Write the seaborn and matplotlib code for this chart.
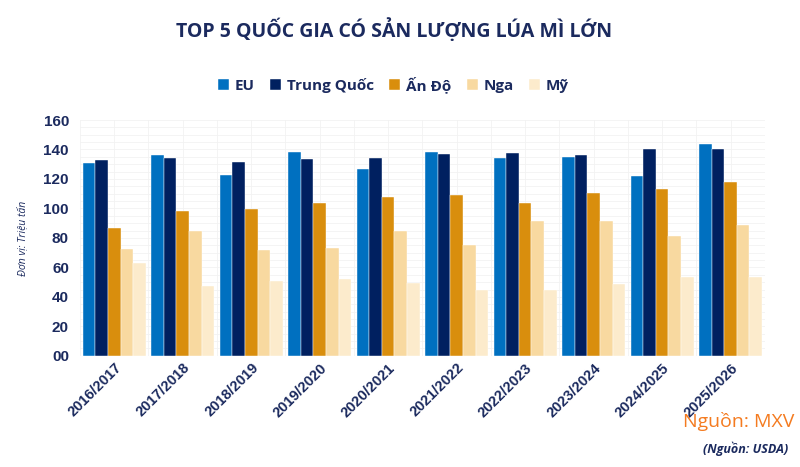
import seaborn as sns
import matplotlib.pyplot as plt
import matplotlib.ticker as mticker
import pandas as pd

# data (million tonnes)
seasons = ['2016/2017', '2017/2018', '2018/2019', '2019/2020', '2020/2021',
           '2021/2022', '2022/2023', '2023/2024', '2024/2025', '2025/2026']
countries = ['EU', 'Trung Quốc', 'Ấn Độ', 'Nga', 'Mỹ']
eu = [130.8, 136.6, 123.0, 138.6, 126.7, 138.2, 134.1, 135.0, 122.0, 143.8]
china = [133.0, 134.1, 131.4, 133.5, 134.1, 136.8, 137.7, 136.6, 140.2, 140.2]
india = [87.0, 98.3, 99.7, 103.4, 107.8, 109.3, 103.9, 110.2, 113.2, 117.9]
russia = [72.3, 85.0, 71.5, 73.5, 85.0, 75.0, 91.8, 91.3, 81.4, 89.1]
usa = [62.7, 47.1, 50.7, 52.1, 49.2, 44.5, 44.5, 48.7, 53.4, 53.7]

colors = ['#0070C0', '#002060', '#D98E0D', '#F8D9A0', '#FCEBCC']
navy = '#1B2A5E'

rows = []
for name, vals in zip(countries, [eu, china, india, russia, usa]):
    for s, v in zip(seasons, vals):
        rows.append({'season': s, 'country': name, 'value': v})
df = pd.DataFrame(rows)

sns.set_style('white')
plt.rcParams['font.family'] = ['Open Sans', 'DejaVu Sans']

fig = plt.figure(figsize=(8, 4.67), dpi=100)
ax = fig.add_axes([0.1, 0.238, 0.856, 0.505])

sns.barplot(data=df, x='season', y='value', hue='country', order=seasons,
            hue_order=countries, palette=colors, width=0.92, saturation=1,
            edgecolor='white', linewidth=0.3, ax=ax, legend=True)

ax.set_ylim(0, 160)
ax.set_xlim(-0.5, len(seasons) - 0.5)
ax.yaxis.set_major_locator(mticker.MultipleLocator(20))
ax.yaxis.set_minor_locator(mticker.MultipleLocator(5))
ax.yaxis.set_major_formatter(mticker.FuncFormatter(lambda v, p: f'{int(v):02d}'))
ax.xaxis.set_minor_locator(mticker.FixedLocator([i - 0.5 for i in range(len(seasons) + 1)]))
ax.grid(True, which='both', color='#F2F2F2', linewidth=0.6)
ax.set_axisbelow(True)
for sp in ax.spines.values():
    sp.set_visible(False)
ax.tick_params(which='both', length=0)
ax.tick_params(axis='y', pad=8)

for lab in ax.get_yticklabels():
    lab.set_fontfamily(['Liberation Sans', 'DejaVu Sans'])
    lab.set_fontweight('bold')
    lab.set_fontsize(11)
    lab.set_color(navy)
ax.set_xticks(range(len(seasons)))
ax.set_xticklabels(seasons, rotation=45, ha='right', rotation_mode='anchor',
                   fontsize=10.5, fontweight='bold', color=navy,
                   family=['Liberation Sans', 'DejaVu Sans'])

ax.set_xlabel('')
ax.set_ylabel('Đơn vị: Triệu tấn', fontsize=7.5, style='italic', color=navy,
              labelpad=11)

handles, labels = ax.get_legend_handles_labels()
ax.legend(handles, labels, loc='center', bbox_to_anchor=(0.458, 1.15), ncol=5,
          frameon=False, handlelength=0.7, handleheight=0.7,
          handletextpad=0.4, columnspacing=1.0,
          prop={'weight': 'bold', 'size': 11})
for t in ax.get_legend().get_texts():
    t.set_color(navy)

fig.text(0.492, 0.935, 'TOP 5 QUỐC GIA CÓ SẢN LƯỢNG LÚA MÌ LỚN', ha='center',
         va='center', fontsize=14, fontweight='bold', color=navy)
fig.text(0.993, 0.098, 'Nguồn: MXV', ha='right', va='center', fontsize=14,
         color='#F47B20')
fig.text(0.985, 0.038, '(Nguồn: USDA)', ha='right', va='center', fontsize=9,
         fontweight='bold', style='italic', color=navy)

fig.savefig('out.png', dpi=100)
